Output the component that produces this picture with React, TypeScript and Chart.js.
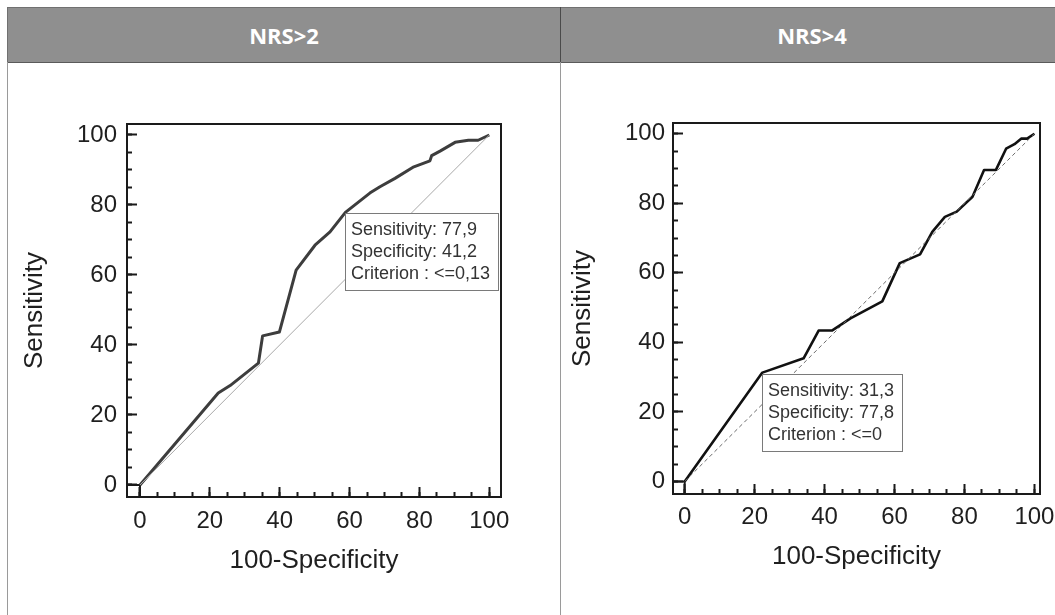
import React, { useEffect, useRef } from "react";
import { Chart, registerables } from "chart.js";

Chart.register(...registerables);

// ---------- data ----------
const panelTitles = ["NRS>2", "NRS>4"];
const axisTitleX = "100-Specificity";
const axisTitleY = "Sensitivity";

// NRS>2 ROC curve (100-Specificity, Sensitivity)
const nrs2FPR = [0, 22.4, 25.8, 33.9, 35.1, 39.9, 44.7, 50.1, 54.4, 58.8, 65.8, 68.7, 73.0, 78.4, 83.0, 83.5, 85.9, 90.2, 94.0, 96.8, 100];
const nrs2Sens = [0, 26.3, 28.4, 34.8, 42.6, 43.7, 61.4, 68.5, 72.3, 77.9, 83.4, 85.2, 87.6, 90.9, 92.6, 94.1, 95.4, 97.9, 98.5, 98.5, 100];
const nrs2Criterion = [58.8, 77.9];
const nrs2BoxLines = ["Sensitivity: 77,9", "Specificity: 41,2", "Criterion : <=0,13"];

// NRS>4 ROC curve
const nrs4FPR = [0, 22.2, 34.0, 38.3, 42.1, 47.4, 56.5, 61.5, 67.3, 70.8, 74.4, 77.8, 82.3, 85.6, 89.0, 91.9, 94.3, 96.2, 97.9, 100];
const nrs4Sens = [0, 31.3, 35.4, 43.4, 43.4, 46.9, 51.8, 62.8, 65.3, 71.8, 76.1, 77.6, 81.9, 89.6, 89.6, 95.7, 97.0, 98.6, 98.6, 100];
const nrs4Criterion = [22.2, 31.3];
const nrs4BoxLines = ["Sensitivity: 31,3", "Specificity: 77,8", "Criterion : <=0"];

const diagonalX = [0, 100];
const diagonalY = [0, 100];

const majorStep = 20;
const minorStep = 5;

const FONT = '"Liberation Sans", Arial, Helvetica, sans-serif';

type PanelCfg = {
  fpr: number[];
  sens: number[];
  crit: number[];
  lines: string[];
  xRange: number[];
  yRange: number[];
  curveColor: string;
  curveWidth: number;
  diagColor: string;
  diagDash: number[];
  yAxisWidth: number;
  xAxisHeight: number;
  padTop: number;
  padRight: number;
  yTitlePad: number;
  xTitlePad: number;
  yLabelPad: number;
  xLabelPad: number;
  width: number;
  height: number;
};

function toPts(xs: number[], ys: number[]) {
  return xs.map((x, i) => ({ x, y: ys[i] }));
}

function RocChart(props: { cfg: PanelCfg; style: React.CSSProperties }) {
  const ref = useRef<HTMLCanvasElement | null>(null);
  const c = props.cfg;
  useEffect(() => {
    if (!ref.current) return;
    const boxPlugin = {
      id: "critBox",
      afterDatasetsDraw(chart: any) {
        const { ctx, scales } = chart;
        const px = scales.x.getPixelForValue(c.crit[0]);
        const py = scales.y.getPixelForValue(c.crit[1]);
        ctx.save();
        ctx.font = "18px " + FONT;
        const tw = Math.max(...c.lines.map((l) => ctx.measureText(l).width));
        const w = Math.round(tw + 14);
        const h = 77;
        const bx = Math.round(px);
        const by = Math.round(py + 1);
        ctx.fillStyle = "#ffffff";
        ctx.fillRect(bx, by, w, h);
        ctx.strokeStyle = "#7a7a7a";
        ctx.lineWidth = 1;
        ctx.strokeRect(bx + 0.5, by + 0.5, w, h);
        ctx.fillStyle = "#333333";
        ctx.textBaseline = "middle";
        ctx.textAlign = "left";
        c.lines.forEach((l, i) => ctx.fillText(l, bx + 6, by + 17 + i * 22));
        ctx.restore();
      },
    };

    const frameAxis = (position: string) => ({
      type: "linear",
      position,
      min: position === "top" ? c.xRange[0] : c.yRange[0],
      max: position === "top" ? c.xRange[1] : c.yRange[1],
      grid: { drawOnChartArea: false, drawTicks: false },
      ticks: { display: false },
      border: { display: true, color: "#1a1a1a", width: 2 },
      afterFit(scale: any) {
        if (position === "top") scale.height = 0;
        else scale.width = 0;
      },
    });

    const chart = new Chart(ref.current, {
      type: "line",
      data: {
        datasets: [
          {
            data: toPts(diagonalX, diagonalY),
            borderColor: c.diagColor,
            borderWidth: 1,
            borderDash: c.diagDash,
            pointRadius: 0,
            tension: 0,
            xAxisID: "x",
            yAxisID: "y",
          },
          {
            data: toPts(c.fpr, c.sens),
            borderColor: c.curveColor,
            borderWidth: c.curveWidth,
            pointRadius: 0,
            tension: 0,
            borderJoinStyle: "round",
            xAxisID: "x",
            yAxisID: "y",
          },
          {
            data: toPts([c.xRange[0], 0, 0], [0, 0, c.yRange[0]]),
            borderColor: "#1a1a1a",
            borderWidth: 2,
            pointRadius: 0,
            tension: 0,
            xAxisID: "x",
            yAxisID: "y",
          },
        ],
      } as any,
      options: {
        responsive: false,
        animation: false,
        events: [],
        layout: { padding: { top: c.padTop, right: c.padRight, left: 0, bottom: 0 } },
        plugins: { legend: { display: false }, tooltip: { enabled: false } },
        scales: {
          xMinor: {
            type: "linear",
            position: "bottom",
            weight: 0,
            min: c.xRange[0],
            max: c.xRange[1],
            grid: { drawOnChartArea: false, drawTicks: true, tickLength: -5, tickWidth: 2, tickColor: "#1a1a1a" },
            ticks: { display: false, stepSize: minorStep, includeBounds: false },
            border: { display: false },
            afterFit(scale: any) {
              scale.height = 0;
            },
          },
          x: {
            type: "linear",
            position: "bottom",
            weight: 10,
            min: c.xRange[0],
            max: c.xRange[1],
            grid: { drawOnChartArea: false, drawTicks: true, tickLength: -10, tickWidth: 2, tickColor: "#1a1a1a" },
            ticks: {
              stepSize: majorStep,
              includeBounds: false,
              padding: c.xLabelPad + 10,
              color: "#1f1f1f",
              font: { size: 24, family: FONT },
              maxRotation: 0,
              autoSkip: false,
            },
            border: { display: true, color: "#1a1a1a", width: 2 },
            title: {
              display: true,
              text: axisTitleX,
              color: "#1f1f1f",
              font: { size: 26, family: FONT },
              padding: { top: 0, bottom: c.xTitlePad },
            },
            afterFit(scale: any) {
              scale.height = c.xAxisHeight;
            },
          },
          yMinor: {
            type: "linear",
            position: "left",
            weight: 0,
            min: c.yRange[0],
            max: c.yRange[1],
            grid: { drawOnChartArea: false, drawTicks: true, tickLength: -5, tickWidth: 2, tickColor: "#1a1a1a" },
            ticks: { display: false, stepSize: minorStep, includeBounds: false },
            border: { display: false },
            afterFit(scale: any) {
              scale.width = 0;
            },
          },
          y: {
            type: "linear",
            position: "left",
            weight: 10,
            min: c.yRange[0],
            max: c.yRange[1],
            grid: { drawOnChartArea: false, drawTicks: true, tickLength: -10, tickWidth: 2, tickColor: "#1a1a1a" },
            ticks: {
              stepSize: majorStep,
              includeBounds: false,
              padding: c.yLabelPad + 10,
              color: "#1f1f1f",
              font: { size: 24, family: FONT },
              autoSkip: false,
            },
            border: { display: true, color: "#1a1a1a", width: 2 },
            title: {
              display: true,
              text: axisTitleY,
              color: "#1f1f1f",
              font: { size: 26, family: FONT },
              padding: { top: c.yTitlePad, bottom: 0 },
            },
            afterFit(scale: any) {
              scale.width = c.yAxisWidth;
            },
          },
          xTop: frameAxis("top"),
          yRight: frameAxis("right"),
        },
      } as any,
      plugins: [boxPlugin],
    });
    return () => chart.destroy();
  }, []);
  return <canvas ref={ref} width={c.width} height={c.height} style={props.style} />;
}

const leftCfg: PanelCfg = {
  fpr: nrs2FPR,
  sens: nrs2Sens,
  crit: nrs2Criterion,
  lines: nrs2BoxLines,
  xRange: [-3.72, 103.35],
  yRange: [-3.43, 103.14],
  curveColor: "#3d3d3d",
  curveWidth: 3,
  diagColor: "#a8a8a8",
  diagDash: [],
  yAxisWidth: 119,
  xAxisHeight: 118,
  padTop: 61,
  padRight: 58,
  yTitlePad: 11.4,
  xTitlePad: 38.4,
  yLabelPad: 10,
  xLabelPad: 10,
  width: 551,
  height: 552,
};

const rightCfg: PanelCfg = {
  fpr: nrs4FPR,
  sens: nrs4Sens,
  crit: nrs4Criterion,
  lines: nrs4BoxLines,
  xRange: [-3.35, 101.6],
  yRange: [-3.62, 103.1],
  curveColor: "#111111",
  curveWidth: 2.6,
  diagColor: "#6a6a6a",
  diagDash: [4, 3],
  yAxisWidth: 112,
  xAxisHeight: 121,
  padTop: 60,
  padRight: 41,
  yTitlePad: 6.4,
  xTitlePad: 42.4,
  yLabelPad: 8,
  xLabelPad: 8.6,
  width: 520,
  height: 552,
};

export default function App() {
  const headerText: React.CSSProperties = {
    position: "absolute",
    top: 0,
    height: 54,
    lineHeight: "54px",
    textAlign: "center",
    color: "#ffffff",
    fontFamily: '"Open Sans", "Noto Sans", sans-serif',
    fontWeight: 700,
    fontSize: 22,
  };
  return (
    <div
      style={{
        position: "absolute",
        left: 0,
        top: 0,
        width: 1055,
        height: 615,
        overflow: "hidden",
        background: "#ffffff",
      }}
    >
      {/* header band */}
      <div
        style={{
          position: "absolute",
          left: 7,
          top: 7,
          width: 1060,
          height: 54,
          background: "#8f8f8f",
          borderTop: "1px solid #707070",
          borderBottom: "1px solid #5a5a5a",
          borderLeft: "1px solid #707070",
        }}
      >
        <div style={{ ...headerText, left: 0, width: 552 }}>{panelTitles[0]}</div>
        <div style={{ ...headerText, left: 553, width: 502 }}>{panelTitles[1]}</div>
      </div>
      {/* divider in header */}
      <div style={{ position: "absolute", left: 560, top: 7, width: 1, height: 55, background: "#4a4a4a" }} />
      {/* body borders */}
      <div style={{ position: "absolute", left: 7, top: 62, width: 1, height: 553, background: "#9a9a9a" }} />
      <div style={{ position: "absolute", left: 560, top: 62, width: 1, height: 553, background: "#9a9a9a" }} />
      <RocChart cfg={leftCfg} style={{ position: "absolute", left: 8, top: 63, width: 551, height: 552 }} />
      <RocChart cfg={rightCfg} style={{ position: "absolute", left: 561, top: 63, width: 520, height: 552 }} />
    </div>
  );
}
